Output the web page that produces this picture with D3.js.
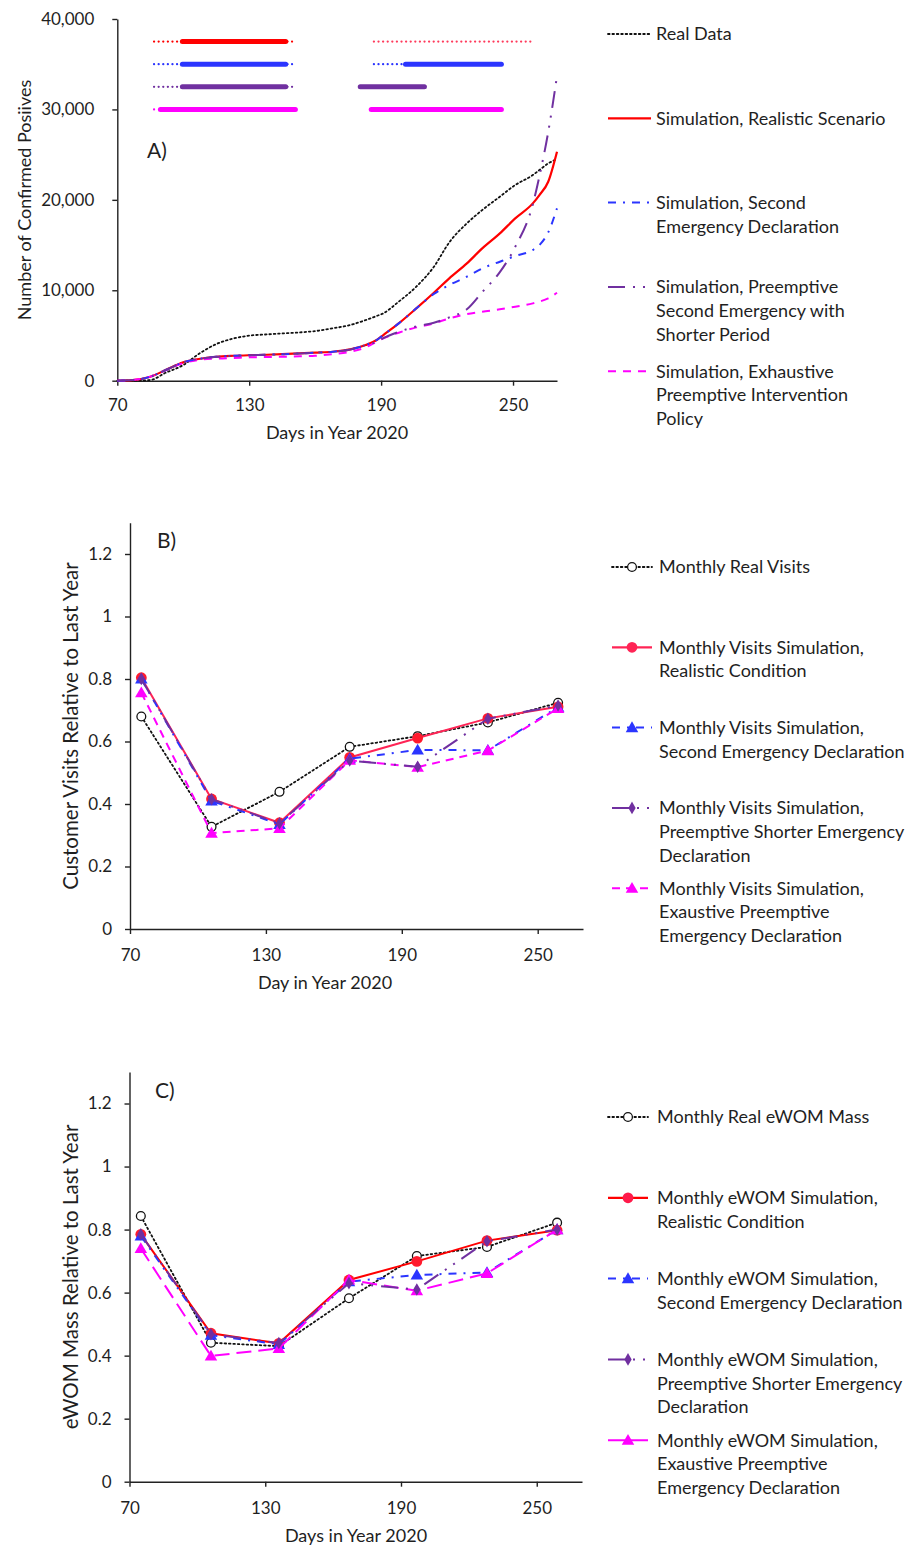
<!DOCTYPE html>
<html>
<head>
<meta charset="utf-8">
<script src="https://cdn.jsdelivr.net/npm/d3@7"></script>
<style>
body { margin: 0; background: #fff; }
text { font-family: Lato, "Open Sans", sans-serif; fill: #1f1f1f; }
.axis .tick text { font-size: 17px; }
.axis path, .axis line { stroke: #222; stroke-width: 1.4; }
.title { font-size: 18px; }
.title.big { font-size: 20.5px; }
.legend { font-size: 18px; }
.panelLabel { font-size: 21px; }
</style>
</head>
<body>
<script>
(function(){
    // ---- data ----
    var xTicks = [70, 130, 190, 250];
    var yTicksA = [0, 10000, 20000, 30000, 40000];
    var yTicksBC = [0, 0.2, 0.4, 0.6, 0.8, 1, 1.2];

    // panel A, cumulative confirmed positives
    var daysA = [70, 77, 85, 92, 100, 107, 115, 123, 130, 138, 145, 153, 160, 168, 176,
                 183, 188, 191, 198, 206, 214, 221, 229, 236, 244, 251, 259, 262, 266, 270];
    var realCases = [0, 0, 80, 880, 1730, 2950, 4050, 4680, 4980, 5120, 5230, 5340, 5490, 5790, 6160,
                     6710, 7160, 7450, 8740, 10400, 12600, 15300, 17400, 18870, 20350, 21640, 22740, 23300, 24030, 24500];
    var realisticCases = [0, 70, 440, 1180, 2030, 2400, 2650, 2760, 2820, 2870, 2930, 3020, 3100, 3200, 3460,
                          3940, 4500, 5050, 6340, 8000, 9730, 11320, 12970, 14630, 16290, 17950, 19610, 20530, 22000, 25320];
    var secondCases = [0, 70, 440, 1180, 2030, 2400, 2650, 2760, 2820, 2870, 2930, 3020, 3100, 3200, 3460,
                       3940, 4500, 5050, 6340, 8000, 9600, 10580, 11500, 12420, 13160, 13790, 14450, 15000, 16400, 19060];
    var preemptiveCases = [0, 70, 440, 1180, 2030, 2400, 2650, 2760, 2820, 2870, 2930, 3020, 3100, 3200, 3460,
                           3940, 4300, 4700, 5400, 6000, 6400, 7000, 7900, 9800, 12000, 14800, 19500, 22600, 27500, 33700];
    var exhaustiveCases = [0, 70, 450, 1150, 1950, 2300, 2450, 2520, 2580, 2620, 2650, 2700, 2760, 2950, 3200,
                           3690, 4310, 4680, 5310, 5900, 6340, 6890, 7370, 7630, 7890, 8180, 8550, 8750, 9100, 9730];

    // panel A, intervention periods drawn at the top (days)
    var periodLevels = [37500, 35000, 32500, 30000];
    var dottedPeriods = [
        [[86.7, 149.5], [186.7, 258]],
        [[86.7, 149.5], [186.7, 200]],
        [[86.7, 149.5]],
        [[86.7, 88.5]]
    ];
    var thickPeriods = [
        [[99.6, 146.6]],
        [[99.6, 146.6], [201.1, 244.7]],
        [[99.6, 146.6], [180.5, 209.7]],
        [[89.6, 151], [185.5, 244.7]]
    ];

    // panels B and C, monthly values
    var monthDays = [75, 106, 136, 167, 197, 228, 259];
    var visitsReal = [0.68, 0.327, 0.439, 0.583, 0.617, 0.661, 0.724];
    var visitsRealistic = [0.804, 0.416, 0.34, 0.549, 0.611, 0.674, 0.711];
    var visitsSecond = [0.80, 0.41, 0.335, 0.545, 0.573, 0.572, 0.71];
    var visitsPreemptive = [0.80, 0.415, 0.338, 0.539, 0.519, 0.673, 0.715];
    var visitsExhaustive = [0.756, 0.307, 0.322, 0.54, 0.518, 0.571, 0.706];

    var ewomReal = [0.843, 0.441, 0.43, 0.582, 0.716, 0.745, 0.822];
    var ewomRealistic = [0.785, 0.471, 0.439, 0.64, 0.699, 0.765, 0.798];
    var ewomSecond = [0.78, 0.465, 0.436, 0.635, 0.656, 0.664, 0.80];
    var ewomPreemptive = [0.785, 0.468, 0.44, 0.63, 0.61, 0.763, 0.80];
    var ewomExhaustive = [0.74, 0.399, 0.423, 0.64, 0.606, 0.661, 0.80];

    var legendA = [
        ["Real Data"],
        ["Simulation, Realistic Scenario"],
        ["Simulation, Second", "Emergency Declaration"],
        ["Simulation, Preemptive", "Second Emergency with", "Shorter Period"],
        ["Simulation, Exhaustive", "Preemptive Intervention", "Policy"]
    ];
    var legendB = [
        ["Monthly Real Visits"],
        ["Monthly Visits Simulation,", "Realistic Condition"],
        ["Monthly Visits Simulation,", "Second Emergency Declaration"],
        ["Monthly Visits Simulation,", "Preemptive Shorter Emergency", "Declaration"],
        ["Monthly Visits Simulation,", "Exaustive Preemptive", "Emergency Declaration"]
    ];
    var legendC = [
        ["Monthly Real eWOM Mass"],
        ["Monthly eWOM Simulation,", "Realistic Condition"],
        ["Monthly eWOM Simulation,", "Second Emergency Declaration"],
        ["Monthly eWOM Simulation,", "Preemptive Shorter Emergency", "Declaration"],
        ["Monthly eWOM Simulation,", "Exaustive Preemptive", "Emergency Declaration"]
    ];

    // ---- styles ----
    var RED = "#ff0000", BLUE = "#2b35ff", PURPLE = "#7030a0", MAGENTA = "#ff00ff", BLACK = "#111";
    var styleReal = {color: BLACK, dash: "1.6,2.8", width: 1.8, cap: "round", marker: "open"},
        styleRealistic = {color: RED, dash: null, width: 2.2, marker: "dot"},
        styleSecond = {color: BLUE, dash: "8,7,2,7", width: 2, marker: "tri"},
        stylePreemptive = {color: PURPLE, dash: "17,8,2,8,2,8", width: 2, marker: "diamond"},
        styleExhaustive = {color: MAGENTA, dash: "8,7", width: 2, marker: "tri"};

    var svg = d3.select("body")
        .append("svg")
        .attr("width", 913)
        .attr("height", 1546);

    svg.append("rect")
        .attr("width", 913)
        .attr("height", 1546)
        .attr("fill", "#fff");

    // ================= Panel A =================
    var xA = d3.scaleLinear().domain([70, 270]).range([117.3, 557]);
    var yA = d3.scaleLinear().domain([0, 40000]).range([380.7, 19]);

    drawAxes(xA, yA, yTicksA, d3.format(","), 18, 13);

    // intervention period bars
    periodLevels.forEach(function(level, i){
        var col = [RED, BLUE, PURPLE, MAGENTA][i];
        dottedPeriods[i].forEach(function(p, j){
            svg.append("line")
                .attr("x1", xA(p[0])).attr("x2", xA(p[1]))
                .attr("y1", yA(level)).attr("y2", yA(level))
                .style("stroke", (i === 0 && j === 1) ? "#ff3b5c" : col)
                .style("stroke-width", 2.2)
                .style("stroke-linecap", "round")
                .style("stroke-dasharray", "0.1,4.5");
        });
        thickPeriods[i].forEach(function(p){
            svg.append("line")
                .attr("x1", xA(p[0])).attr("x2", xA(p[1]))
                .attr("y1", yA(level)).attr("y2", yA(level))
                .style("stroke", col)
                .style("stroke-width", 5)
                .style("stroke-linecap", "round");
        });
    });

    var lineA = d3.line()
        .x(function(d){ return xA(d[0]); })
        .y(function(d){ return yA(d[1]); })
        .curve(d3.curveMonotoneX);

    [[realCases, styleReal], [realisticCases, styleRealistic], [exhaustiveCases, styleExhaustive],
     [secondCases, styleSecond], [preemptiveCases, stylePreemptive]].forEach(function(s){
        svg.append("path")
            .datum(d3.zip(daysA, s[0]))
            .attr("d", lineA)
            .call(strokeStyle, s[1]);
    });

    svg.append("text").attr("class", "panelLabel").attr("x", 147).attr("y", 158).text("A)");
    yTitle(25, 200, "Number of Confirmed Posiives", false);
    xTitle(337, 439, "Days in Year 2020");

    drawLegend(legendA, [styleReal, styleRealistic, styleSecond, stylePreemptive, styleExhaustive],
        608, 651, 656, 34, 84.3, false);

    // ================= Panel B =================
    drawMonthlyPanel(
        d3.scaleLinear().domain([70, 270]).range([130, 583]),
        d3.scaleLinear().domain([0, 1.3]).range([929, 522.75]),
        [visitsReal, visitsRealistic, visitsSecond, visitsExhaustive, visitsPreemptive],
        "#ff2455", "8,6");
    svg.append("text").attr("class", "panelLabel").attr("x", 157).attr("y", 548).text("B)");
    yTitle(71, 726, "Customer Visits Relative to Last Year", true);
    xTitle(325, 989, "Day in Year 2020");
    drawLegend(legendB, [styleReal, extend(styleRealistic, {color: "#ff2455"}), styleSecond,
        stylePreemptive, extend(styleExhaustive, {dash: "8,6"})],
        612, 652, 659, 567, 80.3, true);

    // ================= Panel C =================
    drawMonthlyPanel(
        d3.scaleLinear().domain([70, 270]).range([129.5, 582]),
        d3.scaleLinear().domain([0, 1.3]).range([1481.7, 1072]),
        [ewomReal, ewomRealistic, ewomSecond, ewomExhaustive, ewomPreemptive],
        RED, "15,7");
    svg.append("text").attr("class", "panelLabel").attr("x", 155).attr("y", 1098).text("C)");
    yTitle(71, 1277, "eWOM Mass Relative to Last Year", true);
    xTitle(356, 1542, "Days in Year 2020");
    drawLegend(legendC, [styleReal, styleRealistic, styleSecond, stylePreemptive,
        extend(styleExhaustive, {dash: null})],
        608, 648, 657, 1117, 80.8, true);

    // ---------------- helpers ----------------
    function extend(base, extra){
        var o = {};
        Object.keys(base).forEach(function(k){ o[k] = base[k]; });
        Object.keys(extra).forEach(function(k){ o[k] = extra[k]; });
        return o;
    }

    function strokeStyle(sel, st){
        sel.style("fill", "none")
            .style("stroke", st.color)
            .style("stroke-width", st.width)
            .style("stroke-linecap", st.cap || "butt")
            .style("stroke-dasharray", st.dash || "none");
    }

    function drawAxes(x, y, yTickValues, yFormat, yPad, xPad){
        svg.append("g")
            .attr("class", "axis")
            .attr("transform", "translate(0," + y.range()[0] + ")")
            .call(d3.axisBottom(x).tickValues(xTicks).tickSize(5).tickSizeOuter(0).tickPadding(xPad));
        svg.append("g")
            .attr("class", "axis")
            .attr("transform", "translate(" + x.range()[0] + ",0)")
            .call(d3.axisLeft(y).tickValues(yTickValues).tickFormat(yFormat)
                .tickSize(5).tickSizeOuter(0).tickPadding(yPad));
    }

    function yTitle(cx, cy, label, big){
        svg.append("text")
            .attr("class", big ? "title big" : "title")
            .attr("text-anchor", "middle")
            .attr("transform", "translate(" + cx + "," + cy + ") rotate(-90)")
            .attr("dy", "0.35em")
            .text(label);
    }

    function xTitle(cx, baseline, label){
        svg.append("text")
            .attr("class", "title")
            .attr("text-anchor", "middle")
            .attr("x", cx)
            .attr("y", baseline)
            .text(label);
    }

    function drawMarker(kind, color, cx, cy){
        if (kind === "open"){
            svg.append("circle").attr("cx", cx).attr("cy", cy).attr("r", 4.4)
                .style("fill", "#fff").style("stroke", BLACK).style("stroke-width", 1.3);
        } else if (kind === "dot"){
            svg.append("circle").attr("cx", cx).attr("cy", cy).attr("r", 5.4)
                .style("fill", color);
        } else {
            var type = kind === "tri" ? d3.symbolTriangle : d3.symbolDiamond;
            svg.append("path")
                .attr("d", d3.symbol().type(type).size(kind === "tri" ? 68 : 46))
                .attr("transform", "translate(" + cx + "," + (cy + (kind === "tri" ? 1 : 0)) + ")")
                .style("fill", color);
        }
    }

    function drawMonthlyPanel(x, y, series, redColor, magentaDash){
        drawAxes(x, y, yTicksBC, d3.format(""), 13, 15);
        var styles = [styleReal, extend(styleRealistic, {color: redColor, width: 2}), styleSecond,
                      extend(styleExhaustive, {dash: magentaDash}), stylePreemptive];
        var markerColors = [BLACK, "#ff1a2e", BLUE, MAGENTA, PURPLE];
        var line = d3.line()
            .x(function(d){ return x(d[0]); })
            .y(function(d){ return y(d[1]); });
        series.forEach(function(values, i){
            svg.append("path")
                .datum(d3.zip(monthDays, values))
                .attr("d", line)
                .call(strokeStyle, styles[i]);
            monthDays.forEach(function(day, j){
                drawMarker(styles[i].marker, markerColors[i], x(day), y(values[j]));
            });
        });
    }

    function drawLegend(entries, styles, x0, x1, textX, startY, gap, withMarkers){
        entries.forEach(function(lines, i){
            var cy = startY + i * gap;
            svg.append("line")
                .attr("x1", x0).attr("x2", x1)
                .attr("y1", cy).attr("y2", cy)
                .call(strokeStyle, styles[i]);
            if (withMarkers){
                drawMarker(styles[i].marker, styles[i].color === RED ? "#ff1a4a" : styles[i].color, (x0 + x1) / 2, cy);
            }
            var t = svg.append("text").attr("class", "legend");
            lines.forEach(function(line, j){
                t.append("tspan")
                    .attr("x", textX)
                    .attr("y", cy + j * 23.8)
                    .attr("dy", "0.35em")
                    .text(line);
            });
        });
    }
})();
</script>
</body>
</html>
